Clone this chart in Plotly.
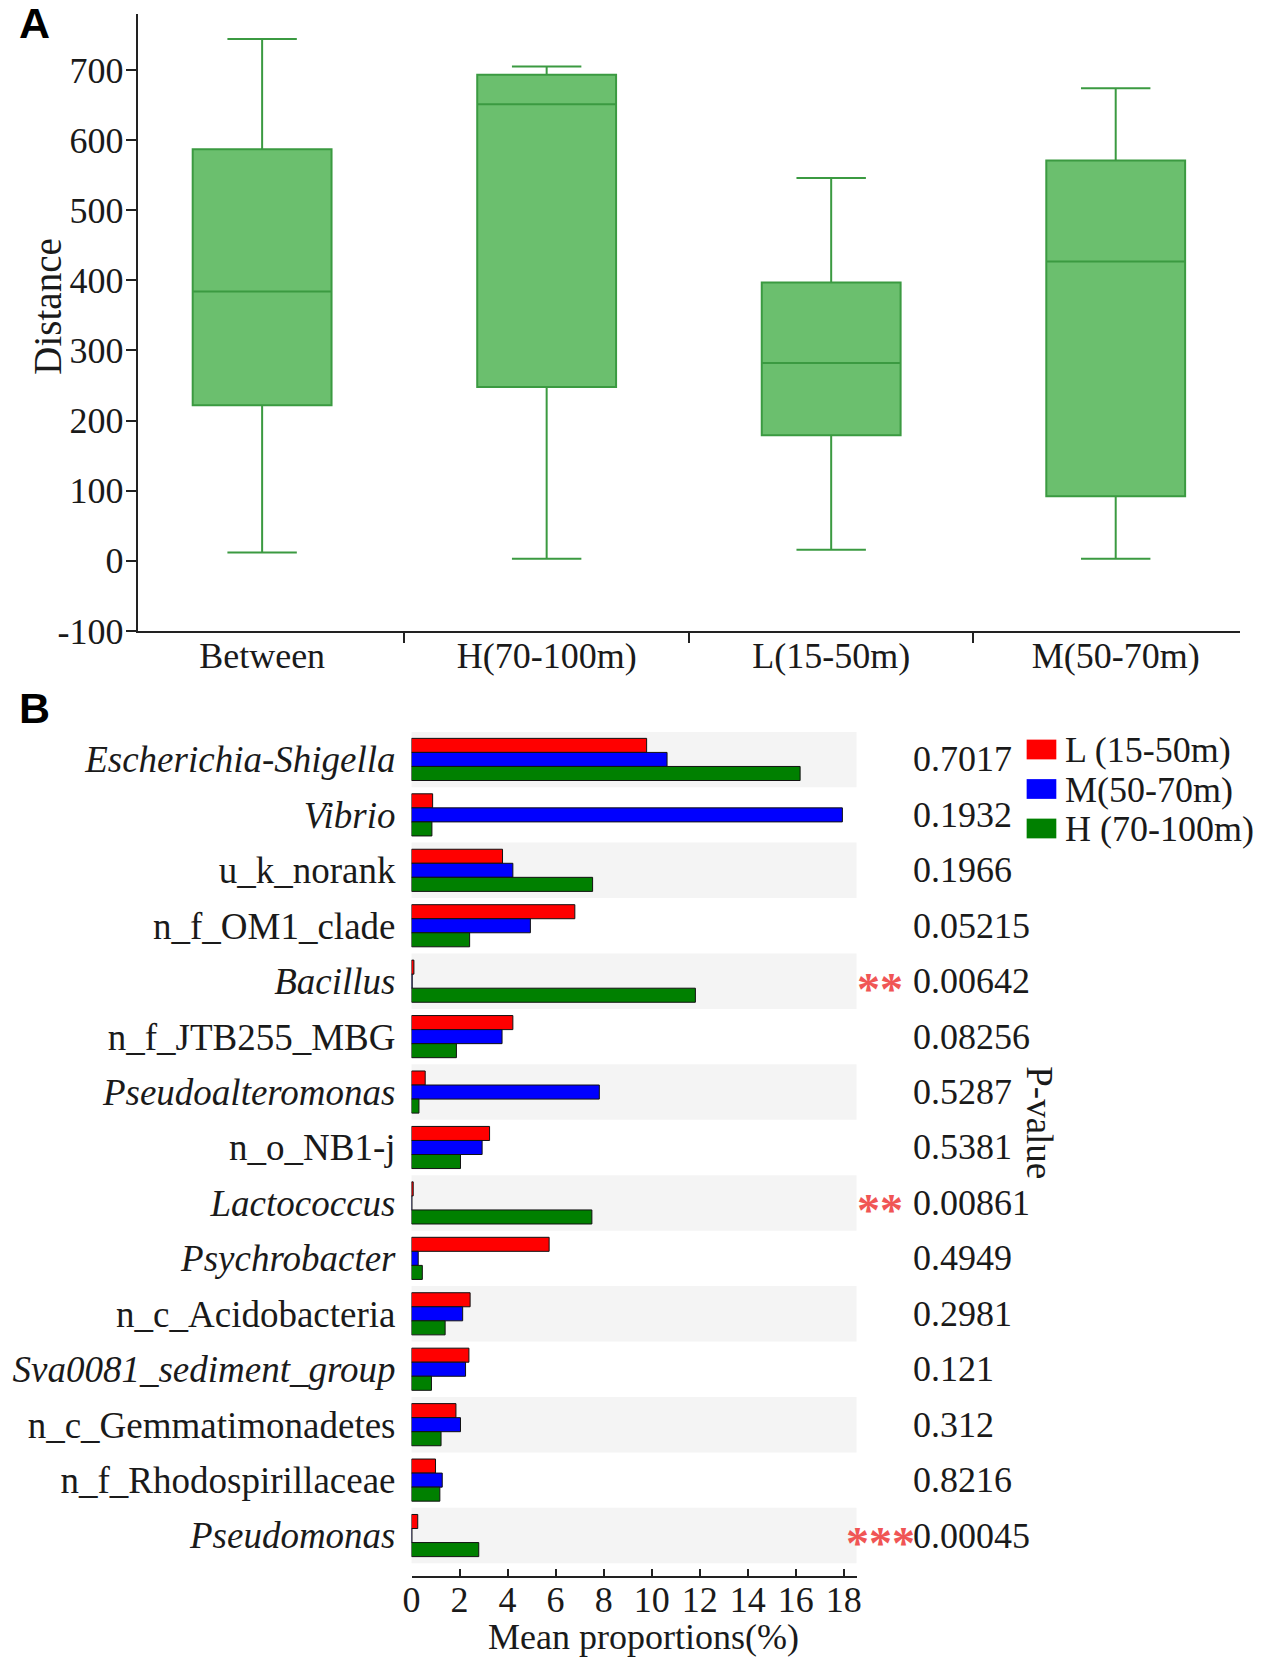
import plotly.graph_objects as go

W, H = 1269, 1677
SERIF = "Liberation Serif, Times New Roman, serif"
SANS = "Liberation Sans, Arial, sans-serif"
INK = "#1a1a1a"

# ---- panel A: distance box plot ----
box_groups = ["Between", "H(70-100m)", "L(15-50m)", "M(50-70m)"]
box_lower = [12, 3, 16, 3]
box_q1 = [222, 248, 179, 92]
box_median = [384, 651, 282, 427]
box_q3 = [587, 693, 397, 571]
box_upper = [744, 705, 546, 674]
dist_ticks = [-100, 0, 100, 200, 300, 400, 500, 600, 700]

# ---- panel B: mean proportions per genus ----
genera = [
    "Escherichia-Shigella", "Vibrio", "u_k_norank", "n_f_OM1_clade", "Bacillus",
    "n_f_JTB255_MBG", "Pseudoalteromonas", "n_o_NB1-j", "Lactococcus", "Psychrobacter",
    "n_c_Acidobacteria", "Sva0081_sediment_group", "n_c_Gemmatimonadetes",
    "n_f_Rhodospirillaceae", "Pseudomonas",
]
italic = [True, True, False, False, True, False, True, False, True, True,
          False, True, False, False, True]
mean_L = [9.79, 0.88, 3.79, 6.80, 0.10, 4.22, 0.57, 3.25, 0.07, 5.73, 2.44, 2.39, 1.85, 1.00, 0.26]
mean_M = [10.64, 17.94, 4.22, 4.95, 0.03, 3.77, 7.82, 2.94, 0.02, 0.28, 2.13, 2.25, 2.04, 1.28, 0.02]
mean_H = [16.18, 0.85, 7.54, 2.42, 11.82, 1.87, 0.31, 2.04, 7.51, 0.45, 1.40, 0.83, 1.23, 1.18, 2.80]
p_values = ["0.7017", "0.1932", "0.1966", "0.05215", "0.00642", "0.08256", "0.5287", "0.5381",
            "0.00861", "0.4949", "0.2981", "0.121", "0.312", "0.8216", "0.00045"]
stars = ["", "", "", "", "**", "", "", "", "**", "", "", "", "", "", "***"]
prop_ticks = [0, 2, 4, 6, 8, 10, 12, 14, 16, 18]

series = [
    ("L (15-50m)", mean_L, "#ff0000"),
    ("M(50-70m)", mean_M, "#0000ff"),
    ("H (70-100m)", mean_H, "#008000"),
]


def px_x(p):
    return p / W


def px_y(p):
    return 1 - p / H


fig = go.Figure()

fig.add_trace(go.Box(
    x=box_groups, q1=box_q1, median=box_median, q3=box_q3,
    lowerfence=box_lower, upperfence=box_upper,
    fillcolor="#6bbf6e", line=dict(color="#3b9a41", width=2),
    width=0.488, whiskerwidth=0.5, boxpoints=False,
    xaxis="x", yaxis="y", showlegend=False, hoverinfo="skip",
))

ticktext = [f"<i>{g}</i>" if it else g for g, it in zip(genera, italic)]
for name, vals, color in series:
    fig.add_trace(go.Bar(
        y=genera, x=vals, orientation="h", name=name,
        marker=dict(color=color, line=dict(color="#111", width=1)),
        xaxis="x2", yaxis="y2", showlegend=False,
    ))

# alternating grey bands behind the bars
shapes = []
for i in range(0, len(genera), 2):
    shapes.append(dict(
        type="rect", xref="x2 domain", yref="y2", x0=0, x1=1,
        y0=i - 0.5, y1=i + 0.5, fillcolor="#f4f4f4", line=dict(width=0), layer="below",
    ))

annotations = [
    dict(text="<b>A</b>", x=px_x(8), y=px_y(23), xref="paper", yref="paper",
         xanchor="left", yanchor="middle", showarrow=False,
         font=dict(family=SANS, size=43, color="#000")),
    dict(text="<b>B</b>", x=px_x(8), y=px_y(717), xref="paper", yref="paper",
         xanchor="left", yanchor="middle", showarrow=False,
         font=dict(family=SANS, size=43, color="#000")),
    dict(text="Distance", x=px_x(39), y=px_y(311), xref="paper", yref="paper",
         xanchor="center", yanchor="middle", textangle=-90, showarrow=False,
         font=dict(family=SERIF, size=39, color=INK)),
    dict(text="P-value", x=px_x(1042), y=px_y(1137), xref="paper", yref="paper",
         xanchor="center", yanchor="middle", textangle=90, showarrow=False,
         font=dict(family=SERIF, size=37, color=INK)),
    dict(text="Mean proportions(%)", x=px_x(642), y=px_y(1658), xref="paper", yref="paper",
         xanchor="center", yanchor="middle", showarrow=False,
         font=dict(family=SERIF, size=36, color=INK)),
]
for g, p, s in zip(genera, p_values, stars):
    annotations.append(dict(
        text=p, x=px_x(912), y=g, xref="paper", yref="y2", xanchor="left",
        showarrow=False, font=dict(family=SERIF, size=36, color=INK),
    ))
    if s:
        annotations.append(dict(
            text=f"<b>{s}</b>", x=px_x(881), y=g, xref="paper", yref="y2", xanchor="center",
            yshift=-8, showarrow=False, font=dict(family=SERIF, size=46, color="#f05555"),
        ))

# hand-drawn legend with large swatches
for k, (name, vals, color) in enumerate(series):
    top = 749 + k * 40
    shapes.append(dict(
        type="rect", xref="paper", yref="paper",
        x0=px_x(1029), x1=px_x(1059), y0=px_y(top + 20), y1=px_y(top),
        fillcolor=color, line=dict(width=0),
    ))
    annotations.append(dict(
        text=name, x=px_x(1066), y=px_y(top + 11), xref="paper", yref="paper",
        xanchor="left", yanchor="middle", showarrow=False,
        font=dict(family=SERIF, size=36, color=INK),
    ))

axis_line = dict(showline=True, linecolor="#222", linewidth=1.5, ticks="outside",
                 tickcolor="#222", tickwidth=1.5, ticklen=10, zeroline=False, showgrid=False,
                 tickfont=dict(family=SERIF, size=36, color=INK))

fig.update_layout(
    width=W, height=H,
    margin=dict(l=0, r=0, t=0, b=0),
    paper_bgcolor="white", plot_bgcolor="white",
    barmode="group", bargap=0.24, bargroupgap=0,
    shapes=shapes, annotations=annotations,
    xaxis=dict(
        domain=[px_x(130), px_x(1245)], anchor="y", type="category",
        tickson="boundaries", ticklabelstandoff=-8, **axis_line,
    ),
    yaxis=dict(
        domain=[px_y(639), px_y(14)], anchor="x", range=[-100, 780],
        tickvals=dist_ticks, ticktext=[str(t) for t in dist_ticks],
        ticklabelstandoff=-5, **axis_line,
    ),
    xaxis2=dict(
        domain=[px_x(407), px_x(857)], anchor="y2", range=[0, 18.53],
        tickvals=prop_ticks + [18.53], ticktext=[str(t) for t in prop_ticks] + [""],
        showline=True, linecolor="#222", linewidth=1.5, ticks="inside", tickcolor="#222",
        tickwidth=1.5, ticklen=7, zeroline=False, showgrid=False, ticklabelstandoff=-9,
        tickfont=dict(family=SERIF, size=36, color=INK),
    ),
    yaxis2=dict(
        domain=[px_y(1596), px_y(741)], anchor="x2", type="category",
        categoryarray=genera, range=[len(genera) - 0.27, -0.5],
        tickvals=genera, ticktext=ticktext, ticks="", showline=False, showgrid=False,
        zeroline=False, ticklabelstandoff=15,
        tickfont=dict(family=SERIF, size=37, color=INK),
    ),
)

# drop the browser's default 8px body margin so the figure sits at the page origin
fig.write_html(
    "out.html",
    config={"displayModeBar": False},
    post_script="document.body.style.margin='0px';",
)
